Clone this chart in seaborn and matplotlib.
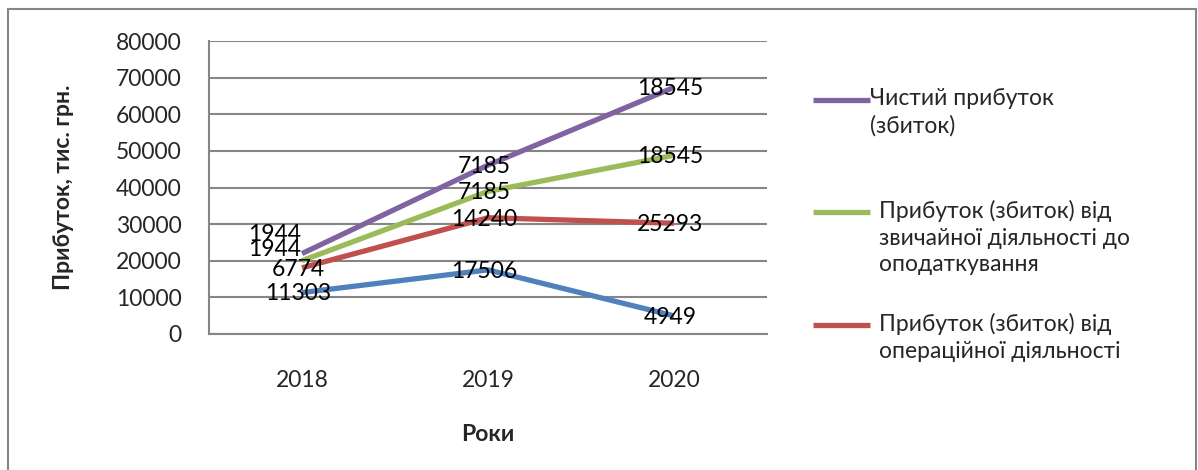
import numpy as np
import pandas as pd
import matplotlib
matplotlib.use("Agg")
import matplotlib.pyplot as plt
from matplotlib.lines import Line2D
from matplotlib.patches import Rectangle
import seaborn as sns

years = [2018, 2019, 2020]
series_names = ["Операційні", "Прибуток (збиток) від\nопераційної діяльності",
                "Прибуток (збиток) від\nзвичайної діяльності до\nоподаткування",
                "Чистий прибуток\n(збиток)"]
s_blue = [11303, 17506, 4949]
s_red = [6774, 14240, 25293]
s_green = [1944, 7185, 18545]
s_purple = [1944, 7185, 18545]
colors = ["#4F81BD", "#C0504D", "#9BBB59", "#8064A2"]
y_ticks = [0, 10000, 20000, 30000, 40000, 50000, 60000, 70000, 80000]
x_title = "Роки"
y_title = "Прибуток, тис. грн."

sns.set_theme(style="white")
plt.rcParams["font.family"] = ["Lato", "DejaVu Sans"]

vals = np.array([s_blue, s_red, s_green, s_purple], dtype=float)
stacked = np.cumsum(vals, axis=0)
rows = []
for i, name in enumerate(series_names):
    for j, yr in enumerate(years):
        rows.append({"year": yr, "series": name, "value": stacked[i, j], "label": int(vals[i, j])})
df = pd.DataFrame(rows)

fig = plt.figure(figsize=(11.98, 4.70), dpi=100)
ax = fig.add_axes([209/1198, 1-334/470, (767-209)/1198, (334-41)/470])

sns.lineplot(data=df, x="year", y="value", hue="series", hue_order=series_names,
             palette=colors, linewidth=3.8, legend=False, ax=ax, sort=False)
for line in ax.lines:
    line.set_solid_capstyle("butt")

# data labels
offsets = {(2, 2018): (-20, 8), (3, 2018): (-20, 14)}
for i, name in enumerate(series_names):
    for j, yr in enumerate(years):
        dx, dy = offsets.get((i, yr), (-3, -1))
        ax.annotate(str(int(vals[i, j])), (yr, stacked[i, j]), xytext=(dx, dy),
                    textcoords="offset points", ha="center", va="center",
                    fontsize=16.5, color="black")

ax.set_xlim(2017.5, 2020.5)
ax.set_ylim(0, 80000)
ax.set_yticks(y_ticks)
ax.set_yticklabels([str(v) for v in y_ticks], fontsize=16.5)
ax.set_xticks(years)
ax.set_xticklabels([str(y) for y in years], fontsize=16.5)
ax.set_xticks([2017.5, 2018.5, 2019.5, 2020.5], minor=True)
ax.tick_params(axis="x", which="major", length=0, pad=26)
ax.tick_params(axis="x", which="minor", length=7, width=1.5, color="#868686", direction="out")
ax.tick_params(axis="y", which="major", length=11, width=1.5, color="#868686", direction="inout", pad=14)
ax.yaxis.grid(True, color="#868686", linewidth=1.5)
ax.set_axisbelow(True)
for s in ["top", "right"]:
    ax.spines[s].set_visible(False)
for s in ["left", "bottom"]:
    ax.spines[s].set_color("#868686")
    ax.spines[s].set_linewidth(1.5)

ax.set_xlabel(x_title, fontsize=16.5, fontweight="bold", labelpad=24)
ax.set_ylabel(y_title, fontsize=16.5, fontweight="bold", labelpad=30)

# manual legend (handle aligned with first text line)
W, H = 1198, 470
legend_items = [(3, 100, 870), (2, 212, 879), (1, 325, 879)]
for idx, ypix, tx in legend_items:
    fig.add_artist(Line2D([813/W, 870/W], [1-ypix/H, 1-ypix/H], color=colors[idx],
                          linewidth=3.8, solid_capstyle="butt"))
    fig.text(tx/W, 1-(ypix-12)/H, series_names[idx], ha="left", va="top",
             fontsize=16.5, linespacing=1.33)

# outer frame
fig.add_artist(Rectangle((8/W, -0.1), (1196-8)/W, 1.1-9/H, transform=fig.transFigure,
                         fill=False, edgecolor="#868686", linewidth=1.5))

fig.savefig("out.png", dpi=100)
